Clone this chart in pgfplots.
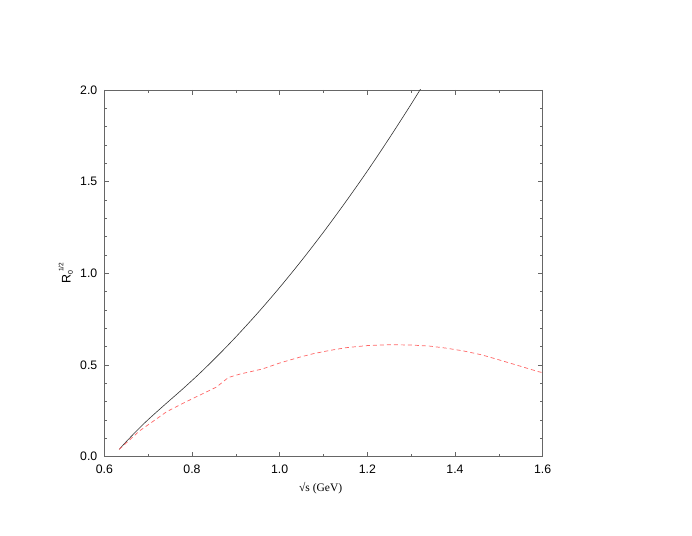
\documentclass[border=0pt]{standalone}
\usepackage{fontspec}
\setmainfont{Liberation Sans}
\newfontfamily\serifx{Liberation Serif}
\usepackage{pgfplots}
\pgfplotsset{compat=1.18}
\begin{document}
\begin{tikzpicture}[x=1pt,y=1pt]
\useasboundingbox (-104.3pt,-78.3pt) rectangle (587.7pt,456.7pt);
\begin{axis}[
  at={(0pt,0pt)}, anchor=south west,
  scale only axis, width=438.4pt, height=366.7pt,
  xmin=0.6, xmax=1.6, ymin=0, ymax=2.0,
  xtick={0.6,0.8,...,1.6}, ytick={0,0.5,...,2.0},
  minor x tick num=1, minor y tick num=4,
  /pgf/number format/fixed, /pgf/number format/fixed zerofill, /pgf/number format/precision=1,
  /pgf/number format/assume math mode=true,
  tick align=inside,
  major tick length=5pt, minor tick length=3pt,
  tick style={black!60, line width=0.5pt},
  axis line style={black!60, line width=0.6pt},
  ticklabel style={font=\fontsize{12.3}{14}\selectfont},
  xticklabel style={yshift=-4.5pt},
  yticklabel style={xshift=-3.5pt},
  xlabel={\serifx √s (GeV)}, ylabel={R\rlap{\raisebox{-0.35ex}{\fontsize{7}{8}\selectfont 0}}\hspace{3pt}\raisebox{1.1ex}{\fontsize{6.5}{8}\selectfont 1/2}},
  xlabel style={font=\fontsize{11.5}{14}\selectfont, at={(axis description cs:0.4936,-0.0854)}, anchor=center},
  ylabel style={font=\fontsize{12.5}{15}\selectfont, at={(axis description cs:-0.0880,0.5)}, anchor=center},
  clip=true,
]
\addplot[black!80, line width=0.6pt, smooth] coordinates {
(0.634,0.040) (0.650,0.082) (0.666,0.122) (0.685,0.168) (0.704,0.211) (0.740,0.288)
(0.780,0.372) (0.820,0.460) (0.860,0.554) (0.900,0.653) (0.950,0.784) (1.000,0.923)
(1.050,1.070) (1.100,1.225) (1.150,1.388) (1.200,1.558) (1.250,1.737) (1.300,1.923)
(1.330,2.039)
};
\addplot[red!60, line width=0.7pt, dash pattern=on 4pt off 3pt] coordinates {
(0.634,0.040) (0.680,0.140) (0.742,0.245) (0.780,0.292) (0.818,0.336) (0.856,0.380) (0.883,0.432)
(0.910,0.451) (0.960,0.478) (1.000,0.511) (1.046,0.543) (1.077,0.562) (1.115,0.580)
(1.153,0.595) (1.200,0.606) (1.252,0.611) (1.300,0.609) (1.343,0.603) (1.380,0.592)
(1.419,0.577) (1.460,0.556) (1.495,0.532) (1.540,0.500) (1.590,0.464) (1.600,0.458)
};
\end{axis}
\end{tikzpicture}
\end{document}
